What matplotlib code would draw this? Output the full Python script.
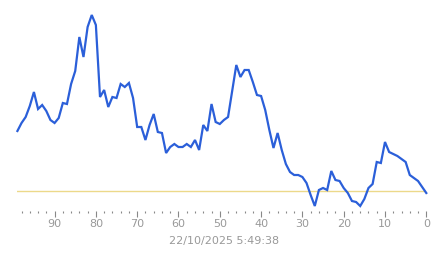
import matplotlib
matplotlib.use("Agg")
import matplotlib.pyplot as plt
from matplotlib.ticker import MultipleLocator

# x positions: time steps ago (99 .. 0)
steps = list(range(99, -1, -1))
# readings (arbitrary units)
values = [80, 88, 94, 105, 119, 102, 106, 100, 91, 88,
          93, 108, 107, 127, 140, 174, 154, 184, 196, 186,
          114, 121, 104, 114, 113, 127, 124, 128, 113, 84,
          84, 71, 86, 97, 79, 78, 58, 64, 67, 64,
          64, 67, 64, 71, 61, 86, 80, 107, 89, 87,
          91, 94, 120, 146, 134, 141, 141, 129, 116, 115,
          101, 81, 63, 78, 61, 47, 39, 36, 36, 34,
          28, 16, 5, 21, 23, 21, 40, 31, 30, 23,
          18, 10, 9, 5, 12, 23, 27, 49, 48, 69,
          59, 57, 55, 52, 49, 36, 33, 30, 24, 18]
reference = 20
major_ticks = [90, 80, 70, 60, 50, 40, 30, 20, 10, 0]
timestamp = "22/10/2025 5:49:38"

W, H = 443, 258
fig = plt.figure(figsize=(W / 100, H / 100), dpi=100)
x0, x1 = 17.4, 426.3
ybot, ytop = 211, 11
ax = fig.add_axes([x0 / W, (H - ybot) / H, (x1 - x0) / W, (ybot - ytop) / H])
ax.set_xlim(99, 0)
ax.set_ylim(0, 200)

ax.axhline(reference, color="#ecd98a", lw=1.0, zorder=1)
ax.plot(steps, values, color="#2b5fd9", lw=1.6, zorder=2, clip_on=False,
        solid_joinstyle="miter")

for s in ax.spines.values():
    s.set_visible(False)
ax.set_yticks([])
ax.set_xticks(major_ticks)
ax.set_xticklabels([str(t) for t in major_ticks])
ax.xaxis.set_minor_locator(MultipleLocator(2))
ax.tick_params(axis="x", which="major", direction="out", length=4.5, width=0.8,
               color="#888888", labelcolor="#999999", labelsize=8, pad=1.5)
ax.tick_params(axis="x", which="minor", direction="out", length=1.2, width=0.8,
               color="#888888")

fig.text(224 / W, 1 - 241 / H, timestamp, ha="center", va="center",
         color="#999999", fontsize=8)

fig.savefig("out.png", dpi=100)
